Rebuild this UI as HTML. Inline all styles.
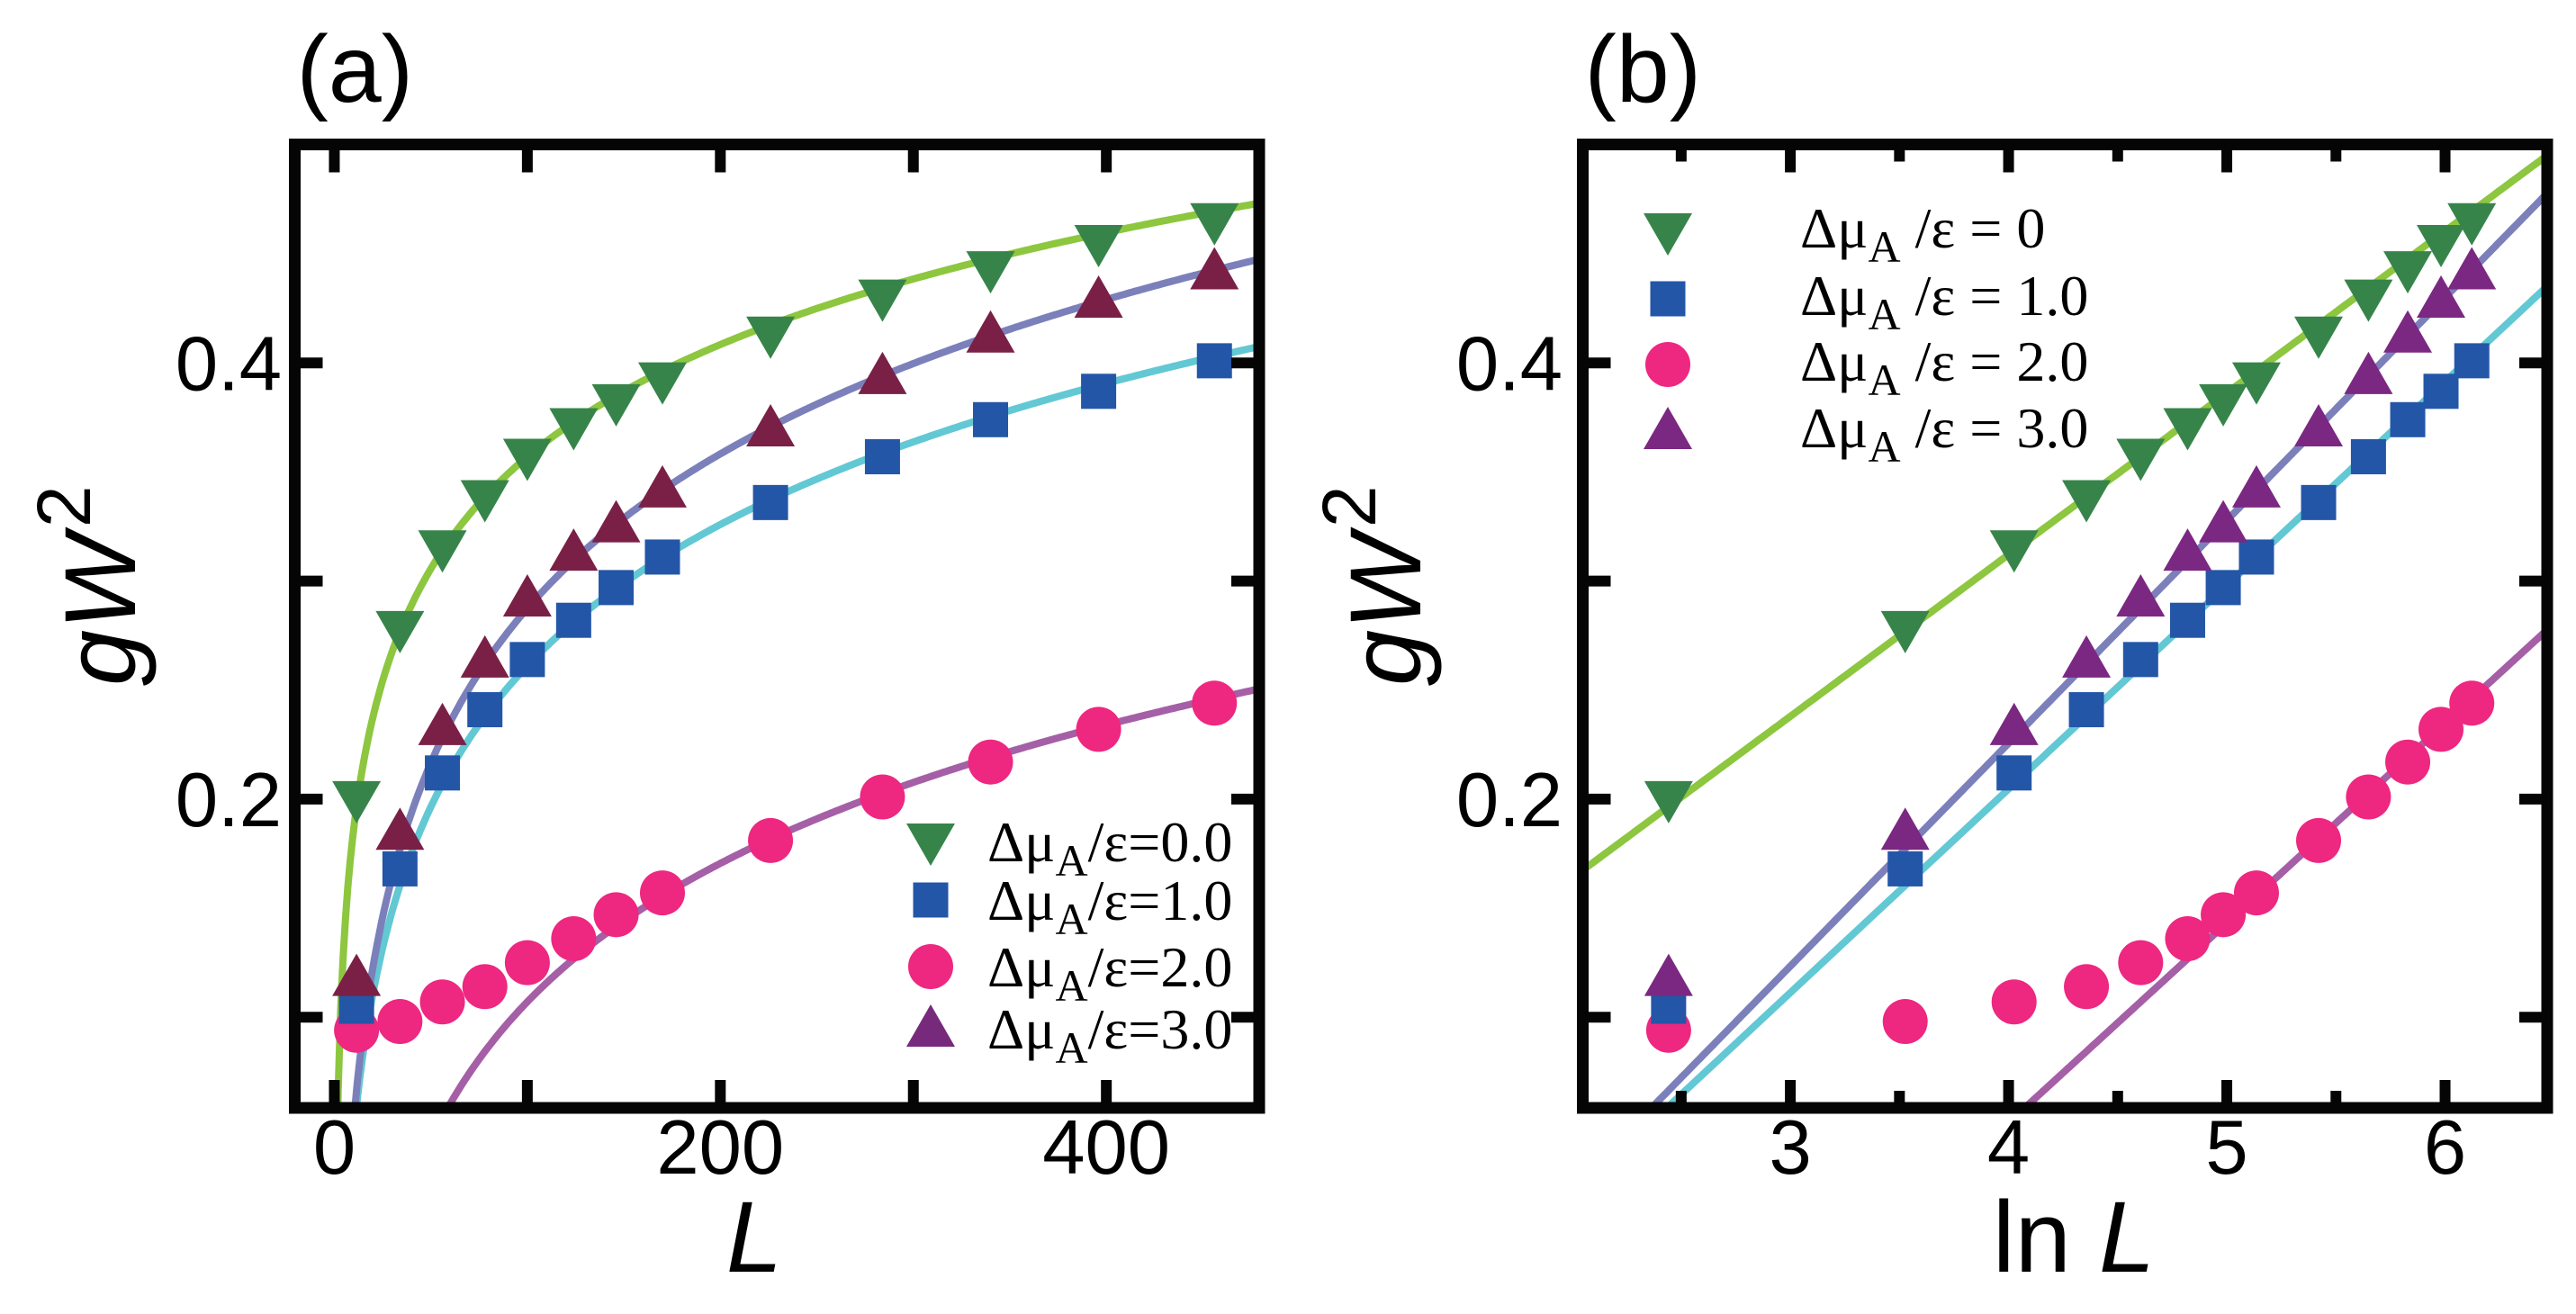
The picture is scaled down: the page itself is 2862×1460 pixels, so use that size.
<!DOCTYPE html>
<html><head><meta charset="utf-8"><style>
html,body{margin:0;padding:0;background:#fff;width:2862px;height:1460px;overflow:hidden;}
svg{display:block;}
text{font-family:"Liberation Sans",sans-serif;fill:#000;}
.leg{font-family:"Liberation Serif",serif;font-size:64px;}
</style></head><body>
<svg id="fig" width="2862" height="1460" viewBox="0 0 2862 1460" xmlns="http://www.w3.org/2000/svg">
<g id="pa"></g>
<g id="pb"></g>
</svg>
<script>
const Lvals = [11.5, 34, 56, 78, 100, 124, 146, 170, 226, 284, 340, 396, 456];
const s0 = [0.200, 0.278, 0.315, 0.338, 0.357, 0.371, 0.382, 0.392, 0.413, 0.430, 0.443, 0.455, 0.465];
const s1 = [0.105, 0.168, 0.212, 0.241, 0.264, 0.282, 0.297, 0.311, 0.336, 0.357, 0.374, 0.387, 0.401];
const s2 = [0.094, 0.098, 0.107, 0.114, 0.125, 0.136, 0.147, 0.157, 0.181, 0.201, 0.217, 0.232, 0.244];
const s3 = [0.118, 0.185, 0.233, 0.264, 0.292, 0.313, 0.326, 0.342, 0.370, 0.394, 0.413, 0.429, 0.442];
const fitA = [0.0154, -0.169, -0.3147, -0.1832];
const fitB = [0.07418, 0.09341, 0.09158, 0.1022];
const xticksA = [0, 100, 200, 300, 400];
const xlabelsA = ["0", "", "200", "", "400"];
const xticksB = [2.5, 3, 3.5, 4, 4.5, 5, 5.5, 6];
const xlabelsB = ["", "3", "", "4", "", "5", "", "6"];
const yticks = [0.1, 0.2, 0.3, 0.4];
const ylabels = ["", "0.2", "", "0.4"];
const legA = ["=0.0", "=1.0", "=2.0", "=3.0"];
const legB = [" = 0", " = 1.0", " = 2.0", " = 3.0"];

const NS = "http://www.w3.org/2000/svg";
function mk(parent, tag, attrs) {
  const e = document.createElementNS(NS, tag);
  for (const k in attrs) e.setAttribute(k, attrs[k]);
  parent.appendChild(e);
  return e;
}
const Y0 = 160.5, Y1 = 1231;
const yMin = 0.0584, yMax = 0.5002;
function ys(v) { return Y1 - (v - yMin) / (yMax - yMin) * (Y1 - Y0); }

const markerColors = ["#37844a", "#2456a8", "#ee2780", "#7a2a7c"];
const lineColors = ["#8dc63f", "#62c8d4", "#a55fa6", "#7b80bb"];
const series = [s0, s1, s2, s3];

function marker(g, type, cx, cy, color) {
  let e;
  if (type === 0) {
    e = mk(g, "polygon", {points: `${cx-27},${cy-20} ${cx+27},${cy-20} ${cx},${cy+27}`, fill: color});
  } else if (type === 1) {
    e = mk(g, "rect", {x: cx-19.5, y: cy-19.5, width: 39, height: 39, fill: color});
  } else if (type === 2) {
    e = mk(g, "circle", {cx: cx, cy: cy, r: 25, fill: color});
  } else {
    e = mk(g, "polygon", {points: `${cx-27},${cy+20} ${cx+27},${cy+20} ${cx},${cy-27}`, fill: color});
  }
  return e;
}

function panel(g, X0, X1, xs, xMinV, xMaxV, xt, xl, isLog, tri3color, label, xLabel, xLabelX, yLabelX, ytickRight, lg) {
  const clipId = "clip" + label;
  const defs = mk(g, "defs", {});
  const cp = mk(defs, "clipPath", {id: clipId});
  mk(cp, "rect", {x: X0, y: Y0, width: X1 - X0, height: Y1 - Y0});
  const plot = mk(g, "g", {"clip-path": `url(#${clipId})`});
  for (let k = 0; k < 4; k++) {
    const order = k;
    let d = "";
    const n = 400;
    for (let i = 0; i <= n; i++) {
      const xv = xMinV + (xMaxV - xMinV) * i / n;
      let lnL = isLog ? xv : Math.log(Math.max(xv, 0.3));
      const yv = fitA[order] + fitB[order] * lnL;
      const px = xs(xv), py = Math.max(-500, Math.min(2000, ys(yv)));
      d += (i ? "L" : "M") + px.toFixed(1) + "," + py.toFixed(1);
    }
    const p = mk(plot, "path", {d: d, fill: "none", stroke: lineColors[order], "stroke-width": 8});
    
    
  }
  const mOrder = [2, 1, 3, 0];
  for (const k of mOrder) {
    const mg = mk(plot, "g", {});
    
    
    for (let i = 0; i < Lvals.length; i++) {
      const xv = isLog ? Math.log(Lvals[i]) : Lvals[i];
      const col = k === 3 ? tri3color : markerColors[k];
      const m = marker(mg, k, xs(xv), ys(series[k][i]), col);
      
      
    }
  }
  const fr = mk(g, "rect", {x: X0, y: Y0, width: X1 - X0, height: Y1 - Y0, fill: "none", stroke: "#050505", "stroke-width": 13});
  
  
  for (let i = 0; i < xt.length; i++) {
    const px = xs(xt[i]);
    const len = (isLog && xl[i] === "") ? 13 : 25;
    mk(g, "line", {x1: px, y1: Y1, x2: px, y2: Y1 - len - 6, stroke: "#050505", "stroke-width": 12});
    mk(g, "line", {x1: px, y1: Y0, x2: px, y2: Y0 + len + 6, stroke: "#050505", "stroke-width": 12});
    if (xl[i]) {
      const t = mk(g, "text", {x: px, y: 1304, "font-size": 85, "text-anchor": "middle"});
      t.textContent = xl[i];
      
      
    }
  }
  for (let i = 0; i < yticks.length; i++) {
    const py = ys(yticks[i]);
    mk(g, "line", {x1: X0, y1: py, x2: X0 + 31, y2: py, stroke: "#050505", "stroke-width": 12});
    mk(g, "line", {x1: X1, y1: py, x2: X1 - 31, y2: py, stroke: "#050505", "stroke-width": 12});
    if (ylabels[i]) {
      const t = mk(g, "text", {x: ytickRight, y: py + 30, "font-size": 85, "text-anchor": "end"});
      t.textContent = ylabels[i];
      
      
    }
  }
  const pl = mk(g, "text", {x: X0 + 2, y: 113, "font-size": 106});
  pl.textContent = "(" + label + ")";
  
  
  const xt2 = mk(g, "text", {x: xLabelX, y: 1413, "font-size": 112, "text-anchor": "middle"});
  xt2.innerHTML = xLabel;
  
  
  const yt = mk(g, "text", {x: 0, y: 0, "font-size": 112, "text-anchor": "middle", transform: `translate(${yLabelX},${(Y0+Y1)/2 - 45}) rotate(-90)`});
  yt.innerHTML = '<tspan font-style="italic">gW</tspan><tspan font-size="84" dx="8" dy="-50">2</tspan>';
  
  
  const leg = mk(g, "g", {});
  
  
  for (let k = 0; k < 4; k++) {
    const cy = lg.y[k];
    const col = k === 3 ? lg.tri : markerColors[k];
    const m = marker(leg, k, lg.mx, cy, col);
    
    
    const t = mk(leg, "text", {x: lg.tx, y: cy + lg.dy, "class": "leg"});
    t.innerHTML = 'Δμ<tspan font-size="50" dy="16">A</tspan><tspan dy="-16">' + (lg.sp ? ' ' : '') + '/ε' + lg.txt[k] + '</tspan>';
    
    
  }
}

const AX0 = 327.5, AX1 = 1399, axMin = -20.5, axMax = 479.2;
function xsA(v) { return AX0 + (v - axMin) / (axMax - axMin) * (AX1 - AX0); }
panel(document.getElementById("pa"), AX0, AX1, xsA, axMin, axMax, xticksA, xlabelsA, false, "#7a2046", "a",
  '<tspan font-style="italic">L</tspan>', 838, 150, 313,
  {mx: 1034, tx: 1097, dy: 22, y: [935, 1000, 1074, 1143], txt: legA, tri: "#772a7c", sp: false});

const BX0 = 1758.5, BX1 = 2830, bxMin = 2.049, bxMax = 6.468;
function xsB(v) { return BX0 + (v - bxMin) / (bxMax - bxMin) * (BX1 - BX0); }
panel(document.getElementById("pb"), BX0, BX1, xsB, bxMin, bxMax, xticksB, xlabelsB, true, "#7b2882", "b",
  'ln <tspan font-style="italic">L</tspan>', 2304, 1578, 1736,
  {mx: 1853, tx: 2000, dy: 18, y: [257, 332, 405, 479], txt: legB, tri: "#7b2882", sp: true});
</script>
</body></html>
